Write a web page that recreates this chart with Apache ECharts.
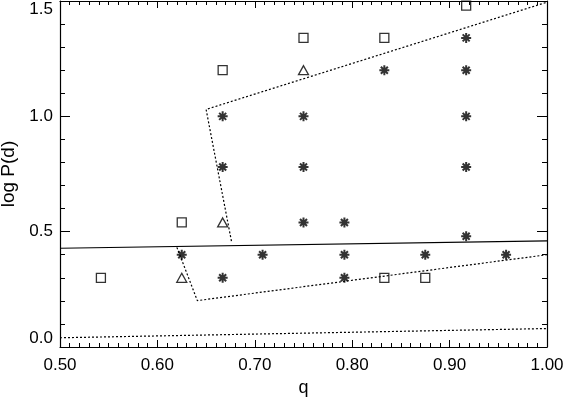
<!DOCTYPE html>
<html>
<head>
<meta charset="utf-8">
<script src="https://cdn.jsdelivr.net/npm/echarts@6/dist/echarts.min.js"></script>
<style>
    html, body { margin: 0; padding: 0; background: #fff; }
    #chart { width: 566px; height: 397px; }
</style>
</head>
<body>
<div id="chart"></div>
<script>
// 数据点 [q, log P]
var squarePts = [[0.542, 0.30], [0.625, 0.54], [0.667, 1.20], [0.750, 1.34], [0.833, 1.34], [0.833, 0.30], [0.875, 0.30], [0.917, 1.48]];
var trianglePts = [[0.625, 0.30], [0.667, 0.54], [0.750, 1.20]];
var starPts = [[0.625, 0.40], [0.667, 1.00], [0.667, 0.78], [0.667, 0.30], [0.708, 0.40],
    [0.750, 1.00], [0.750, 0.78], [0.750, 0.54], [0.792, 0.54], [0.792, 0.40], [0.792, 0.30],
    [0.833, 1.20], [0.875, 0.40], [0.917, 1.34], [0.917, 1.20], [0.917, 1.00], [0.917, 0.78],
    [0.917, 0.48], [0.958, 0.40]];

// 分界线
var solidLine = [[0.50, 0.428], [1.00, 0.460]];
var upperBound = [[0.676, 0.459], [0.650, 1.030], [1.00, 1.495]];
var lowerBound = [[0.620, 0.432], [0.641, 0.201], [1.00, 0.400]];
var bottomLine = [[0.50, 0.040], [1.00, 0.080]];

var xTicks = { min: 0.5, max: 1.0, interval: 0.1 };
var yTicks = { min: 0, max: 1.5, interval: 0.5 };

var font = 'Liberation Sans';
var starPath = 'path://M0 5 L10 5 M5 0 L5 10 M1.5 1.5 L8.5 8.5 M8.5 1.5 L1.5 8.5';

function xAxisCfg(pos, labels) {
    return {
        type: 'value', position: pos,
        min: xTicks.min, max: xTicks.max, interval: xTicks.interval,
        name: labels ? 'q' : '', nameLocation: 'middle', nameGap: 27,
        nameTextStyle: { color: '#000', fontFamily: font, fontSize: 18 },
        axisLine: { show: true, onZero: false, lineStyle: { color: '#000', width: 1.2 } },
        axisTick: { show: true, inside: true, length: 7, lineStyle: { color: '#000' } },
        minorTick: { show: true, splitNumber: 10, length: 4, lineStyle: { color: '#000' } },
        splitLine: { show: false },
        axisLabel: {
            show: labels, color: '#000', fontFamily: font, fontSize: 17, margin: 10,
            formatter: function (v) { return v.toFixed(2); }
        }
    };
}

function yAxisCfg(pos, labels) {
    return {
        type: 'value', position: pos,
        min: yTicks.min, max: yTicks.max, interval: yTicks.interval,
        name: labels ? 'log P(d)' : '', nameLocation: 'middle', nameGap: 42,
        nameTextStyle: { color: '#000', fontFamily: font, fontSize: 19 },
        axisLine: { show: true, onZero: false, lineStyle: { color: '#000', width: 1.2 } },
        axisTick: { show: true, inside: true, length: 10, lineStyle: { color: '#000' } },
        minorTick: { show: true, splitNumber: 5, length: 5, lineStyle: { color: '#000' } },
        splitLine: { show: false },
        axisLabel: {
            show: labels, color: '#000', fontFamily: font, fontSize: 17, margin: 7,
            verticalAlignMinLabel: 'bottom', verticalAlignMaxLabel: 'top',
            formatter: function (v) { return v.toFixed(1); }
        }
    };
}

function lineSeries(data, type) {
    return {
        type: 'line', data: data, symbol: 'none', silent: true,
        lineStyle: { color: '#000', width: 1.2, type: type }
    };
}

var chart = echarts.init(document.getElementById('chart'));
chart.setOption({
    animation: false,
    grid: { left: 60, right: 19, top: 1, bottom: 50, containLabel: false, outerBoundsMode: 'none' },
    xAxis: [xAxisCfg('bottom', true), xAxisCfg('top', false)],
    yAxis: [yAxisCfg('left', true), yAxisCfg('right', false)],
    series: [
        lineSeries(solidLine, 'solid'),
        lineSeries(upperBound, [2, 2]),
        lineSeries(lowerBound, [2, 2]),
        lineSeries(bottomLine, [2, 2]),
        {
            type: 'scatter', data: squarePts, symbol: 'rect', symbolSize: 9,
            itemStyle: { color: 'rgba(255,255,255,0)', borderColor: '#000', borderWidth: 1.3 }
        },
        {
            type: 'scatter', data: trianglePts, symbol: 'triangle', symbolSize: [10, 9],
            itemStyle: { color: 'rgba(255,255,255,0)', borderColor: '#000', borderWidth: 1.3 }
        },
        {
            type: 'scatter', data: starPts, symbol: starPath, symbolSize: 10,
            itemStyle: { color: 'none', borderColor: '#000', borderWidth: 2 }
        }
    ]
});
</script>
</body>
</html>
